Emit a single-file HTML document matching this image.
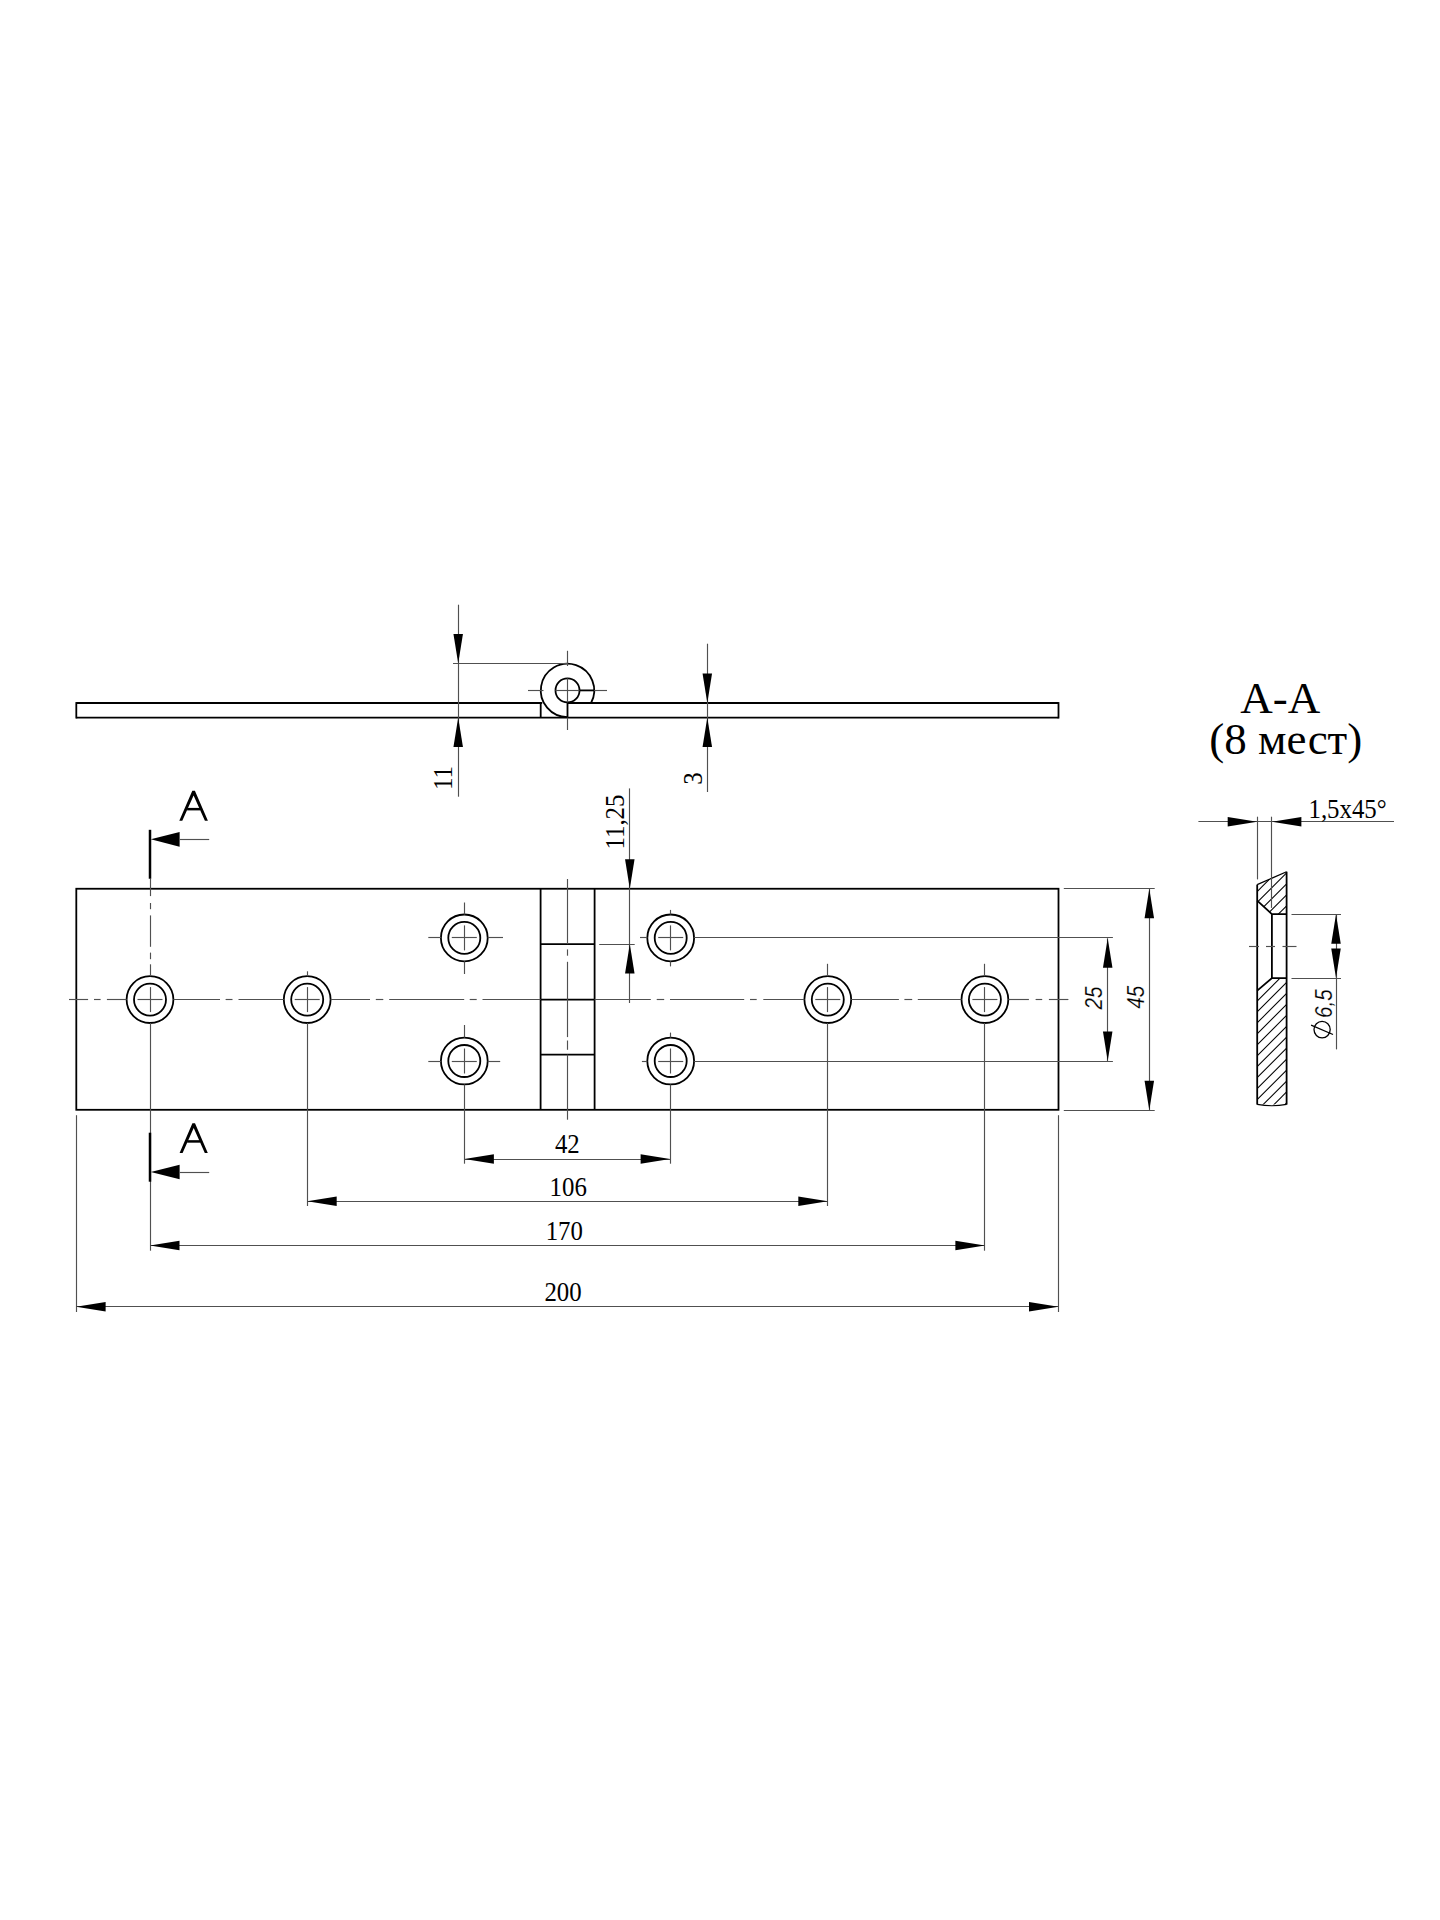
<!DOCTYPE html>
<html><head><meta charset="utf-8"><title>Hinge drawing</title>
<style>html,body{margin:0;padding:0;background:#fff;}body{width:1440px;height:1920px;overflow:hidden;}svg{display:block;}</style>
</head><body>
<svg width="1440" height="1920" viewBox="0 0 1440 1920"><line x1="76.3" y1="717.6" x2="1058.5" y2="717.6" stroke="#000" stroke-width="1.8"/>
<line x1="76.3" y1="703" x2="542.2" y2="703" stroke="#000" stroke-width="1.8"/>
<line x1="567.5" y1="703" x2="1058.5" y2="703" stroke="#000" stroke-width="1.8"/>
<line x1="76.3" y1="702.1" x2="76.3" y2="718.5" stroke="#000" stroke-width="1.8"/>
<line x1="1058.5" y1="702.1" x2="1058.5" y2="718.5" stroke="#000" stroke-width="1.8"/>
<line x1="540.7" y1="703" x2="540.7" y2="717.6" stroke="#000" stroke-width="1.8"/>
<path d="M 567.5 717.1 A 26.7 26.7 0 1 1 591.04 703" fill="none" stroke="#000" stroke-width="1.8" stroke-linejoin="miter"/>
<circle cx="567.5" cy="690.4" r="12" fill="none" stroke="#000" stroke-width="1.8"/>
<line x1="567.5" y1="703" x2="567.5" y2="717.6" stroke="#000" stroke-width="1.8"/>
<line x1="579.5" y1="690.4" x2="594.2" y2="690.4" stroke="#000" stroke-width="1.8"/>
<line x1="528" y1="690.5" x2="543.5" y2="690.5" stroke="#505050" stroke-width="1.15"/>
<line x1="555.5" y1="690.5" x2="579.5" y2="690.5" stroke="#505050" stroke-width="1.15"/>
<line x1="594.2" y1="690.5" x2="607" y2="690.5" stroke="#505050" stroke-width="1.15"/>
<line x1="567.5" y1="650.8" x2="567.5" y2="666" stroke="#505050" stroke-width="1.15"/>
<line x1="567.5" y1="678.4" x2="567.5" y2="702.4" stroke="#505050" stroke-width="1.15"/>
<line x1="567.5" y1="717.6" x2="567.5" y2="730" stroke="#505050" stroke-width="1.15"/>
<line x1="458.5" y1="604.7" x2="458.5" y2="796.7" stroke="#505050" stroke-width="1.15"/>
<line x1="453" y1="663.5" x2="567.5" y2="663.5" stroke="#505050" stroke-width="1.15"/>
<polygon points="458.2,663.6 453.45,634.1 462.95,634.1" fill="#000"/>
<polygon points="458.2,717.6 453.45,747.1 462.95,747.1" fill="#000"/>
<text x="0" y="0" transform="translate(452.2 790) rotate(-90) scale(0.94 1)" font-family="Liberation Serif" font-size="26.4" text-anchor="start">11</text>
<line x1="707.5" y1="643.7" x2="707.5" y2="792" stroke="#505050" stroke-width="1.15"/>
<polygon points="707.3,703 702.55,673.5 712.05,673.5" fill="#000"/>
<polygon points="707.3,717.6 702.55,747.1 712.05,747.1" fill="#000"/>
<text x="0" y="0" transform="translate(702 784.8) rotate(-90) scale(0.94 1)" font-family="Liberation Serif" font-size="26.4" text-anchor="start">3</text>
<rect x="76.3" y="888.75" width="982.2" height="221.05" fill="none" stroke="#000" stroke-width="1.8"/>
<line x1="540.6" y1="888.75" x2="540.6" y2="1109.8" stroke="#000" stroke-width="1.8"/>
<line x1="594.6" y1="888.75" x2="594.6" y2="1109.8" stroke="#000" stroke-width="1.8"/>
<line x1="540.6" y1="944.1" x2="594.6" y2="944.1" stroke="#000" stroke-width="1.8"/>
<line x1="540.6" y1="999.6" x2="594.6" y2="999.6" stroke="#000" stroke-width="1.8"/>
<line x1="540.6" y1="1054.6" x2="594.6" y2="1054.6" stroke="#000" stroke-width="1.8"/>
<line x1="567.5" y1="879" x2="567.5" y2="944.1" stroke="#505050" stroke-width="1.15"/>
<line x1="567.5" y1="949.4" x2="567.5" y2="955.7" stroke="#505050" stroke-width="1.15"/>
<line x1="567.5" y1="961.8" x2="567.5" y2="1037.1" stroke="#505050" stroke-width="1.15"/>
<line x1="567.5" y1="1040.5" x2="567.5" y2="1049.8" stroke="#505050" stroke-width="1.15"/>
<line x1="567.5" y1="1054.6" x2="567.5" y2="1119.7" stroke="#505050" stroke-width="1.15"/>
<circle cx="150" cy="999.6" r="23.4" fill="none" stroke="#000" stroke-width="1.8"/>
<circle cx="150" cy="999.6" r="16" fill="none" stroke="#000" stroke-width="1.8"/>
<line x1="137.5" y1="999.5" x2="162.5" y2="999.5" stroke="#505050" stroke-width="1.15"/>
<line x1="150.5" y1="987.1" x2="150.5" y2="1012.1" stroke="#505050" stroke-width="1.15"/>
<circle cx="307.2" cy="999.6" r="23.4" fill="none" stroke="#000" stroke-width="1.8"/>
<circle cx="307.2" cy="999.6" r="16" fill="none" stroke="#000" stroke-width="1.8"/>
<line x1="294.7" y1="999.5" x2="319.7" y2="999.5" stroke="#505050" stroke-width="1.15"/>
<line x1="307.5" y1="987.1" x2="307.5" y2="1012.1" stroke="#505050" stroke-width="1.15"/>
<circle cx="464.3" cy="937.9" r="23.4" fill="none" stroke="#000" stroke-width="1.8"/>
<circle cx="464.3" cy="937.9" r="16" fill="none" stroke="#000" stroke-width="1.8"/>
<line x1="451.8" y1="937.5" x2="476.8" y2="937.5" stroke="#505050" stroke-width="1.15"/>
<line x1="464.5" y1="925.4" x2="464.5" y2="950.4" stroke="#505050" stroke-width="1.15"/>
<circle cx="464.3" cy="1061" r="23.4" fill="none" stroke="#000" stroke-width="1.8"/>
<circle cx="464.3" cy="1061" r="16" fill="none" stroke="#000" stroke-width="1.8"/>
<line x1="451.8" y1="1061.5" x2="476.8" y2="1061.5" stroke="#505050" stroke-width="1.15"/>
<line x1="464.5" y1="1048.5" x2="464.5" y2="1073.5" stroke="#505050" stroke-width="1.15"/>
<circle cx="670.7" cy="937.9" r="23.4" fill="none" stroke="#000" stroke-width="1.8"/>
<circle cx="670.7" cy="937.9" r="16" fill="none" stroke="#000" stroke-width="1.8"/>
<line x1="658.2" y1="937.5" x2="683.2" y2="937.5" stroke="#505050" stroke-width="1.15"/>
<line x1="670.5" y1="925.4" x2="670.5" y2="950.4" stroke="#505050" stroke-width="1.15"/>
<circle cx="670.7" cy="1061" r="23.4" fill="none" stroke="#000" stroke-width="1.8"/>
<circle cx="670.7" cy="1061" r="16" fill="none" stroke="#000" stroke-width="1.8"/>
<line x1="658.2" y1="1061.5" x2="683.2" y2="1061.5" stroke="#505050" stroke-width="1.15"/>
<line x1="670.5" y1="1048.5" x2="670.5" y2="1073.5" stroke="#505050" stroke-width="1.15"/>
<circle cx="827.8" cy="999.6" r="23.4" fill="none" stroke="#000" stroke-width="1.8"/>
<circle cx="827.8" cy="999.6" r="16" fill="none" stroke="#000" stroke-width="1.8"/>
<line x1="815.3" y1="999.5" x2="840.3" y2="999.5" stroke="#505050" stroke-width="1.15"/>
<line x1="827.5" y1="987.1" x2="827.5" y2="1012.1" stroke="#505050" stroke-width="1.15"/>
<circle cx="984.9" cy="999.6" r="23.4" fill="none" stroke="#000" stroke-width="1.8"/>
<circle cx="984.9" cy="999.6" r="16" fill="none" stroke="#000" stroke-width="1.8"/>
<line x1="972.4" y1="999.5" x2="997.4" y2="999.5" stroke="#505050" stroke-width="1.15"/>
<line x1="984.5" y1="987.1" x2="984.5" y2="1012.1" stroke="#505050" stroke-width="1.15"/>
<line x1="69" y1="999.5" x2="88.1" y2="999.5" stroke="#505050" stroke-width="1.15"/>
<line x1="94" y1="999.5" x2="100.6" y2="999.5" stroke="#505050" stroke-width="1.15"/>
<line x1="106.9" y1="999.5" x2="126.6" y2="999.5" stroke="#505050" stroke-width="1.15"/>
<line x1="173.4" y1="999.5" x2="220" y2="999.5" stroke="#505050" stroke-width="1.15"/>
<line x1="225.6" y1="999.5" x2="232.5" y2="999.5" stroke="#505050" stroke-width="1.15"/>
<line x1="238.5" y1="999.5" x2="283.8" y2="999.5" stroke="#505050" stroke-width="1.15"/>
<line x1="330.6" y1="999.5" x2="370" y2="999.5" stroke="#505050" stroke-width="1.15"/>
<line x1="375.8" y1="999.5" x2="383.3" y2="999.5" stroke="#505050" stroke-width="1.15"/>
<line x1="389.2" y1="999.5" x2="464.2" y2="999.5" stroke="#505050" stroke-width="1.15"/>
<line x1="469.7" y1="999.5" x2="476.7" y2="999.5" stroke="#505050" stroke-width="1.15"/>
<line x1="482.5" y1="999.5" x2="540.6" y2="999.5" stroke="#505050" stroke-width="1.15"/>
<line x1="594.6" y1="999.5" x2="650.8" y2="999.5" stroke="#505050" stroke-width="1.15"/>
<line x1="656.7" y1="999.5" x2="664.2" y2="999.5" stroke="#505050" stroke-width="1.15"/>
<line x1="670" y1="999.5" x2="744.2" y2="999.5" stroke="#505050" stroke-width="1.15"/>
<line x1="750" y1="999.5" x2="756.7" y2="999.5" stroke="#505050" stroke-width="1.15"/>
<line x1="763.3" y1="999.5" x2="804.4" y2="999.5" stroke="#505050" stroke-width="1.15"/>
<line x1="851.2" y1="999.5" x2="898.9" y2="999.5" stroke="#505050" stroke-width="1.15"/>
<line x1="904.4" y1="999.5" x2="912.2" y2="999.5" stroke="#505050" stroke-width="1.15"/>
<line x1="917.8" y1="999.5" x2="961.5" y2="999.5" stroke="#505050" stroke-width="1.15"/>
<line x1="1008.3" y1="999.5" x2="1028.9" y2="999.5" stroke="#505050" stroke-width="1.15"/>
<line x1="1035.6" y1="999.5" x2="1042.2" y2="999.5" stroke="#505050" stroke-width="1.15"/>
<line x1="1048.9" y1="999.5" x2="1068.4" y2="999.5" stroke="#505050" stroke-width="1.15"/>
<line x1="428.3" y1="937.5" x2="440.9" y2="937.5" stroke="#505050" stroke-width="1.15"/>
<line x1="487.7" y1="937.5" x2="503" y2="937.5" stroke="#505050" stroke-width="1.15"/>
<line x1="464.5" y1="902.5" x2="464.5" y2="914.5" stroke="#505050" stroke-width="1.15"/>
<line x1="464.5" y1="961.3" x2="464.5" y2="974" stroke="#505050" stroke-width="1.15"/>
<line x1="428.3" y1="1061.5" x2="440.9" y2="1061.5" stroke="#505050" stroke-width="1.15"/>
<line x1="487.7" y1="1061.5" x2="500.2" y2="1061.5" stroke="#505050" stroke-width="1.15"/>
<line x1="464.5" y1="1025" x2="464.5" y2="1037.6" stroke="#505050" stroke-width="1.15"/>
<line x1="464.5" y1="1084.4" x2="464.5" y2="1163.7" stroke="#505050" stroke-width="1.15"/>
<line x1="640" y1="937.5" x2="647.3" y2="937.5" stroke="#505050" stroke-width="1.15"/>
<line x1="694.1" y1="937.5" x2="1112.9" y2="937.5" stroke="#505050" stroke-width="1.15"/>
<line x1="670.5" y1="909.9" x2="670.5" y2="914.5" stroke="#505050" stroke-width="1.15"/>
<line x1="670.5" y1="961.3" x2="670.5" y2="966.4" stroke="#505050" stroke-width="1.15"/>
<line x1="641.9" y1="1061.5" x2="647.3" y2="1061.5" stroke="#505050" stroke-width="1.15"/>
<line x1="694.1" y1="1061.5" x2="1112.9" y2="1061.5" stroke="#505050" stroke-width="1.15"/>
<line x1="670.5" y1="1032.6" x2="670.5" y2="1037.6" stroke="#505050" stroke-width="1.15"/>
<line x1="670.5" y1="1084.4" x2="670.5" y2="1163.7" stroke="#505050" stroke-width="1.15"/>
<line x1="307.5" y1="971.3" x2="307.5" y2="976.2" stroke="#505050" stroke-width="1.15"/>
<line x1="307.5" y1="1023" x2="307.5" y2="1206" stroke="#505050" stroke-width="1.15"/>
<line x1="827.5" y1="963.8" x2="827.5" y2="976.2" stroke="#505050" stroke-width="1.15"/>
<line x1="827.5" y1="1023" x2="827.5" y2="1206" stroke="#505050" stroke-width="1.15"/>
<line x1="984.5" y1="963.8" x2="984.5" y2="976.2" stroke="#505050" stroke-width="1.15"/>
<line x1="984.5" y1="1023" x2="984.5" y2="1250.7" stroke="#505050" stroke-width="1.15"/>
<line x1="150.5" y1="878.75" x2="150.5" y2="896.1" stroke="#505050" stroke-width="1.15"/>
<line x1="150.5" y1="903" x2="150.5" y2="909.2" stroke="#505050" stroke-width="1.15"/>
<line x1="150.5" y1="915.4" x2="150.5" y2="946.8" stroke="#505050" stroke-width="1.15"/>
<line x1="150.5" y1="952.6" x2="150.5" y2="959.2" stroke="#505050" stroke-width="1.15"/>
<line x1="150.5" y1="964.3" x2="150.5" y2="976.2" stroke="#505050" stroke-width="1.15"/>
<line x1="150.5" y1="1023" x2="150.5" y2="1250.7" stroke="#505050" stroke-width="1.15"/>
<line x1="150" y1="829.8" x2="150" y2="878.75" stroke="#000" stroke-width="2.5"/>
<line x1="150" y1="1132.7" x2="150" y2="1181.7" stroke="#000" stroke-width="2.5"/>
<polygon points="150.8,839.3 179.6,831.95 179.6,846.65" fill="#000"/>
<line x1="179.6" y1="839.5" x2="209.2" y2="839.5" stroke="#505050" stroke-width="1.15"/>
<polygon points="150.8,1172 179.6,1164.65 179.6,1179.35" fill="#000"/>
<line x1="179.6" y1="1172.5" x2="209.2" y2="1172.5" stroke="#505050" stroke-width="1.15"/>
<path d="M 179.3 820.8 L 192.3 790.8 L 194.9 790.8 L 207.9 820.8 L 204.9 820.8 L 193.6 795.5 L 182.3 820.8 Z" fill="#000"/>
<rect x="187.1" y="807.9" width="13" height="2.5" fill="#000"/>
<path d="M 179.6 1152.9 L 192.4 1123.3 L 195 1123.3 L 207.8 1152.9 L 204.8 1152.9 L 193.7 1128 L 182.6 1152.9 Z" fill="#000"/>
<rect x="187.2" y="1140.17" width="13" height="2.5" fill="#000"/>
<line x1="629.5" y1="788.4" x2="629.5" y2="1003" stroke="#505050" stroke-width="1.15"/>
<line x1="599.2" y1="944.5" x2="634.7" y2="944.5" stroke="#505050" stroke-width="1.15"/>
<polygon points="629.8,888.75 625.05,859.25 634.55,859.25" fill="#000"/>
<polygon points="629.8,944.1 625.05,973.6 634.55,973.6" fill="#000"/>
<text x="0" y="0" transform="translate(624.3 849.5) rotate(-90) scale(0.94 1)" font-family="Liberation Serif" font-size="26.4" text-anchor="start">11,25</text>
<line x1="1107.5" y1="938.3" x2="1107.5" y2="1061" stroke="#505050" stroke-width="1.15"/>
<polygon points="1107.7,938.3 1102.95,967.8 1112.45,967.8" fill="#000"/>
<polygon points="1107.7,1061 1102.95,1031.5 1112.45,1031.5" fill="#000"/>
<text x="0" y="0" transform="translate(1102.4 1009.6) rotate(-90) scale(0.9 1)" font-family="Liberation Sans" font-size="23" text-anchor="start" font-style="italic" stroke="#fff" stroke-width="0.2">25</text>
<line x1="1063.8" y1="888.5" x2="1154.7" y2="888.5" stroke="#505050" stroke-width="1.15"/>
<line x1="1063.8" y1="1110.5" x2="1154.7" y2="1110.5" stroke="#505050" stroke-width="1.15"/>
<line x1="1149.5" y1="888.75" x2="1149.5" y2="1110.2" stroke="#505050" stroke-width="1.15"/>
<polygon points="1149.3,888.75 1144.55,918.25 1154.05,918.25" fill="#000"/>
<polygon points="1149.3,1110.2 1144.55,1080.7 1154.05,1080.7" fill="#000"/>
<text x="0" y="0" transform="translate(1143.7 1008.7) rotate(-90) scale(0.9 1)" font-family="Liberation Sans" font-size="23" text-anchor="start" font-style="italic" stroke="#fff" stroke-width="0.2">45</text>
<line x1="464.4" y1="1159.5" x2="670.1" y2="1159.5" stroke="#505050" stroke-width="1.15"/>
<polygon points="464.4,1159 493.9,1154.25 493.9,1163.75" fill="#000"/>
<polygon points="670.1,1159 640.6,1154.25 640.6,1163.75" fill="#000"/>
<text x="0" y="0" transform="translate(567.3 1153.4) scale(0.94 1)" font-family="Liberation Serif" font-size="26.4" text-anchor="middle">42</text>
<line x1="307.2" y1="1201.5" x2="827.8" y2="1201.5" stroke="#505050" stroke-width="1.15"/>
<polygon points="307.2,1201.2 336.7,1196.45 336.7,1205.95" fill="#000"/>
<polygon points="827.8,1201.2 798.3,1196.45 798.3,1205.95" fill="#000"/>
<text x="0" y="0" transform="translate(568.2 1195.5) scale(0.94 1)" font-family="Liberation Serif" font-size="26.4" text-anchor="middle">106</text>
<line x1="150" y1="1245.5" x2="984.9" y2="1245.5" stroke="#505050" stroke-width="1.15"/>
<polygon points="150,1245.6 179.5,1240.85 179.5,1250.35" fill="#000"/>
<polygon points="984.9,1245.6 955.4,1240.85 955.4,1250.35" fill="#000"/>
<text x="0" y="0" transform="translate(564.3 1240.4) scale(0.94 1)" font-family="Liberation Serif" font-size="26.4" text-anchor="middle">170</text>
<line x1="76.5" y1="1115.2" x2="76.5" y2="1312" stroke="#505050" stroke-width="1.15"/>
<line x1="1058.5" y1="1115.2" x2="1058.5" y2="1312" stroke="#505050" stroke-width="1.15"/>
<line x1="76.1" y1="1306.5" x2="1058.5" y2="1306.5" stroke="#505050" stroke-width="1.15"/>
<polygon points="76.1,1306.7 105.6,1301.95 105.6,1311.45" fill="#000"/>
<polygon points="1058.5,1306.7 1029,1301.95 1029,1311.45" fill="#000"/>
<text x="0" y="0" transform="translate(563 1301) scale(0.94 1)" font-family="Liberation Serif" font-size="26.4" text-anchor="middle">200</text>
<text x="0" y="0" transform="translate(1280.3 713.2)" font-family="Liberation Serif" font-size="45" text-anchor="middle">A-A</text>
<text x="0" y="0" transform="translate(1285.8 754)" font-family="Liberation Serif" font-size="45" text-anchor="middle">(8 мест)</text>
<line x1="1257.2" y1="884.6" x2="1257.2" y2="1104.6" stroke="#000" stroke-width="1.8"/>
<line x1="1286.6" y1="871.7" x2="1286.6" y2="1104.6" stroke="#000" stroke-width="1.8"/>
<line x1="1257.2" y1="884.6" x2="1286.6" y2="871.7" stroke="#000" stroke-width="1.2"/>
<path d="M 1257.2 1104.4 Q 1271.9 1107.2 1286.6 1104.4" fill="none" stroke="#000" stroke-width="1.1" stroke-linejoin="miter"/>
<path d="M 1257.2 900.6 L 1271.9 914.2 L 1286.6 914.2" fill="none" stroke="#000" stroke-width="1.8" stroke-linejoin="miter"/>
<line x1="1271.9" y1="914.2" x2="1271.9" y2="978.1" stroke="#000" stroke-width="1.8"/>
<path d="M 1257.2 990.6 L 1271.9 978.1 L 1286.6 978.1" fill="none" stroke="#000" stroke-width="1.8" stroke-linejoin="miter"/>
<defs><clipPath id="h1"><polygon points="1257.2,884.6 1286.6,871.7 1286.6,914.2 1271.9,914.2 1257.2,900.6"/></clipPath><clipPath id="h2"><polygon points="1257.2,990.6 1271.9,978.1 1286.6,978.1 1286.6,1104.4 1257.2,1104.4"/></clipPath></defs>
<g clip-path="url(#h1)" stroke="#000" stroke-width="1.05"><line x1="1291.6" y1="835.15" x2="1252.2" y2="874.55"/><line x1="1291.6" y1="846.1" x2="1252.2" y2="885.5"/><line x1="1291.6" y1="857.05" x2="1252.2" y2="896.45"/><line x1="1291.6" y1="868" x2="1252.2" y2="907.4"/><line x1="1291.6" y1="878.95" x2="1252.2" y2="918.35"/><line x1="1291.6" y1="889.9" x2="1252.2" y2="929.3"/><line x1="1291.6" y1="900.85" x2="1252.2" y2="940.25"/><line x1="1291.6" y1="911.8" x2="1252.2" y2="951.2"/><line x1="1291.6" y1="922.75" x2="1252.2" y2="962.15"/><line x1="1291.6" y1="933.7" x2="1252.2" y2="973.1"/><line x1="1291.6" y1="944.65" x2="1252.2" y2="984.05"/><line x1="1291.6" y1="955.6" x2="1252.2" y2="995"/><line x1="1291.6" y1="966.55" x2="1252.2" y2="1005.95"/><line x1="1291.6" y1="977.5" x2="1252.2" y2="1016.9"/><line x1="1291.6" y1="988.45" x2="1252.2" y2="1027.85"/><line x1="1291.6" y1="999.4" x2="1252.2" y2="1038.8"/><line x1="1291.6" y1="1010.35" x2="1252.2" y2="1049.75"/><line x1="1291.6" y1="1021.3" x2="1252.2" y2="1060.7"/><line x1="1291.6" y1="1032.25" x2="1252.2" y2="1071.65"/><line x1="1291.6" y1="1043.2" x2="1252.2" y2="1082.6"/><line x1="1291.6" y1="1054.15" x2="1252.2" y2="1093.55"/><line x1="1291.6" y1="1065.1" x2="1252.2" y2="1104.5"/><line x1="1291.6" y1="1076.05" x2="1252.2" y2="1115.45"/><line x1="1291.6" y1="1087" x2="1252.2" y2="1126.4"/><line x1="1291.6" y1="1097.95" x2="1252.2" y2="1137.35"/><line x1="1291.6" y1="1108.9" x2="1252.2" y2="1148.3"/><line x1="1291.6" y1="1119.85" x2="1252.2" y2="1159.25"/><line x1="1291.6" y1="1130.8" x2="1252.2" y2="1170.2"/><line x1="1291.6" y1="1141.75" x2="1252.2" y2="1181.15"/><line x1="1291.6" y1="1152.7" x2="1252.2" y2="1192.1"/><line x1="1291.6" y1="1163.65" x2="1252.2" y2="1203.05"/><line x1="1291.6" y1="1174.6" x2="1252.2" y2="1214"/><line x1="1291.6" y1="1185.55" x2="1252.2" y2="1224.95"/></g>
<g clip-path="url(#h2)" stroke="#000" stroke-width="1.05"><line x1="1291.6" y1="835.15" x2="1252.2" y2="874.55"/><line x1="1291.6" y1="846.1" x2="1252.2" y2="885.5"/><line x1="1291.6" y1="857.05" x2="1252.2" y2="896.45"/><line x1="1291.6" y1="868" x2="1252.2" y2="907.4"/><line x1="1291.6" y1="878.95" x2="1252.2" y2="918.35"/><line x1="1291.6" y1="889.9" x2="1252.2" y2="929.3"/><line x1="1291.6" y1="900.85" x2="1252.2" y2="940.25"/><line x1="1291.6" y1="911.8" x2="1252.2" y2="951.2"/><line x1="1291.6" y1="922.75" x2="1252.2" y2="962.15"/><line x1="1291.6" y1="933.7" x2="1252.2" y2="973.1"/><line x1="1291.6" y1="944.65" x2="1252.2" y2="984.05"/><line x1="1291.6" y1="955.6" x2="1252.2" y2="995"/><line x1="1291.6" y1="966.55" x2="1252.2" y2="1005.95"/><line x1="1291.6" y1="977.5" x2="1252.2" y2="1016.9"/><line x1="1291.6" y1="988.45" x2="1252.2" y2="1027.85"/><line x1="1291.6" y1="999.4" x2="1252.2" y2="1038.8"/><line x1="1291.6" y1="1010.35" x2="1252.2" y2="1049.75"/><line x1="1291.6" y1="1021.3" x2="1252.2" y2="1060.7"/><line x1="1291.6" y1="1032.25" x2="1252.2" y2="1071.65"/><line x1="1291.6" y1="1043.2" x2="1252.2" y2="1082.6"/><line x1="1291.6" y1="1054.15" x2="1252.2" y2="1093.55"/><line x1="1291.6" y1="1065.1" x2="1252.2" y2="1104.5"/><line x1="1291.6" y1="1076.05" x2="1252.2" y2="1115.45"/><line x1="1291.6" y1="1087" x2="1252.2" y2="1126.4"/><line x1="1291.6" y1="1097.95" x2="1252.2" y2="1137.35"/><line x1="1291.6" y1="1108.9" x2="1252.2" y2="1148.3"/><line x1="1291.6" y1="1119.85" x2="1252.2" y2="1159.25"/><line x1="1291.6" y1="1130.8" x2="1252.2" y2="1170.2"/><line x1="1291.6" y1="1141.75" x2="1252.2" y2="1181.15"/><line x1="1291.6" y1="1152.7" x2="1252.2" y2="1192.1"/><line x1="1291.6" y1="1163.65" x2="1252.2" y2="1203.05"/><line x1="1291.6" y1="1174.6" x2="1252.2" y2="1214"/><line x1="1291.6" y1="1185.55" x2="1252.2" y2="1224.95"/></g>
<line x1="1249" y1="946.5" x2="1259" y2="946.5" stroke="#505050" stroke-width="1.15"/>
<line x1="1266" y1="946.5" x2="1275" y2="946.5" stroke="#505050" stroke-width="1.15"/>
<line x1="1282.5" y1="946.5" x2="1296.5" y2="946.5" stroke="#505050" stroke-width="1.15"/>
<line x1="1198.4" y1="821.5" x2="1394" y2="821.5" stroke="#505050" stroke-width="1.15"/>
<polygon points="1257.2,821.8 1227.7,817.05 1227.7,826.55" fill="#000"/>
<polygon points="1271.9,821.8 1301.4,817.05 1301.4,826.55" fill="#000"/>
<line x1="1257.5" y1="816.7" x2="1257.5" y2="879.4" stroke="#505050" stroke-width="1.15"/>
<line x1="1271.5" y1="816.7" x2="1271.5" y2="907.9" stroke="#505050" stroke-width="1.15"/>
<text x="0" y="0" transform="translate(1308.5 817.5) scale(0.94 1)" font-family="Liberation Serif" font-size="26.4" text-anchor="start">1,5x45°</text>
<line x1="1291.5" y1="914.5" x2="1341" y2="914.5" stroke="#505050" stroke-width="1.15"/>
<line x1="1291.5" y1="978.5" x2="1341" y2="978.5" stroke="#505050" stroke-width="1.15"/>
<line x1="1336.5" y1="914.2" x2="1336.5" y2="1049.4" stroke="#505050" stroke-width="1.15"/>
<polygon points="1336,914.2 1331.25,943.7 1340.75,943.7" fill="#000"/>
<polygon points="1336,978.1 1331.25,948.6 1340.75,948.6" fill="#000"/>
<text x="0" y="0" transform="translate(1331.5 1018) rotate(-90) scale(0.9 1)" font-family="Liberation Sans" font-size="23" text-anchor="start" font-style="italic" stroke="#fff" stroke-width="0.2">6,5</text>
<ellipse cx="1322.1" cy="1029.6" rx="8.1" ry="8.3" fill="none" stroke="#000" stroke-width="1.3"/>
<line x1="1311.1" y1="1025.2" x2="1333" y2="1034.5" stroke="#000" stroke-width="1.3"/></svg>
</body></html>
